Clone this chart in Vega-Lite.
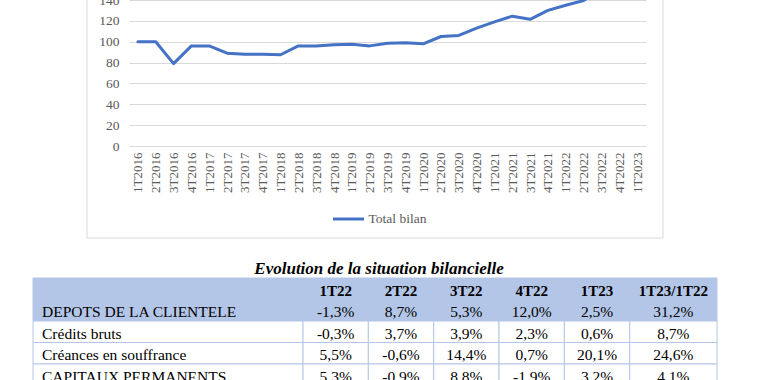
{
  "$schema": "https://vega.github.io/schema/vega-lite/v6.json",
  "width": 758,
  "height": 380,
  "autosize": {"type": "none"},
  "padding": 0,
  "background": "#FFFFFF",
  "config": {"view": {"stroke": null}, "font": "Liberation Serif"},
  "datasets": {
    "bilan": [
      {"trimestre": "1T2016", "total": 100, "serie": "Total bilan"},
      {"trimestre": "2T2016", "total": 100, "serie": "Total bilan"},
      {"trimestre": "3T2016", "total": 79, "serie": "Total bilan"},
      {"trimestre": "4T2016", "total": 96, "serie": "Total bilan"},
      {"trimestre": "1T2017", "total": 96, "serie": "Total bilan"},
      {"trimestre": "2T2017", "total": 89, "serie": "Total bilan"},
      {"trimestre": "3T2017", "total": 88, "serie": "Total bilan"},
      {"trimestre": "4T2017", "total": 88, "serie": "Total bilan"},
      {"trimestre": "1T2018", "total": 87.5, "serie": "Total bilan"},
      {"trimestre": "2T2018", "total": 96, "serie": "Total bilan"},
      {"trimestre": "3T2018", "total": 96, "serie": "Total bilan"},
      {"trimestre": "4T2018", "total": 97, "serie": "Total bilan"},
      {"trimestre": "1T2019", "total": 97.5, "serie": "Total bilan"},
      {"trimestre": "2T2019", "total": 96, "serie": "Total bilan"},
      {"trimestre": "3T2019", "total": 98.5, "serie": "Total bilan"},
      {"trimestre": "4T2019", "total": 99, "serie": "Total bilan"},
      {"trimestre": "1T2020", "total": 98, "serie": "Total bilan"},
      {"trimestre": "2T2020", "total": 105, "serie": "Total bilan"},
      {"trimestre": "3T2020", "total": 106, "serie": "Total bilan"},
      {"trimestre": "4T2020", "total": 113, "serie": "Total bilan"},
      {"trimestre": "1T2021", "total": 119, "serie": "Total bilan"},
      {"trimestre": "2T2021", "total": 124.5, "serie": "Total bilan"},
      {"trimestre": "3T2021", "total": 121.5, "serie": "Total bilan"},
      {"trimestre": "4T2021", "total": 130, "serie": "Total bilan"},
      {"trimestre": "1T2022", "total": 135, "serie": "Total bilan"},
      {"trimestre": "2T2022", "total": 139.5, "serie": "Total bilan"},
      {"trimestre": "3T2022", "total": 150, "serie": "Total bilan"},
      {"trimestre": "4T2022", "total": 162, "serie": "Total bilan"},
      {"trimestre": "1T2023", "total": 166, "serie": "Total bilan"}
    ],
    "lignes": [
      {"ligne": "entete"},
      {"ligne": "DEPOTS DE LA CLIENTELE"},
      {"ligne": "Crédits bruts"},
      {"ligne": "Créances en souffrance"},
      {"ligne": "CAPITAUX PERMANENTS"}
    ],
    "cellules": [
      {"ligne": "DEPOTS DE LA CLIENTELE", "periode": "1T22", "valeur": "-1,3%"},
      {"ligne": "DEPOTS DE LA CLIENTELE", "periode": "2T22", "valeur": "8,7%"},
      {"ligne": "DEPOTS DE LA CLIENTELE", "periode": "3T22", "valeur": "5,3%"},
      {"ligne": "DEPOTS DE LA CLIENTELE", "periode": "4T22", "valeur": "12,0%"},
      {"ligne": "DEPOTS DE LA CLIENTELE", "periode": "1T23", "valeur": "2,5%"},
      {"ligne": "DEPOTS DE LA CLIENTELE", "periode": "1T23/1T22", "valeur": "31,2%"},
      {"ligne": "Crédits bruts", "periode": "1T22", "valeur": "-0,3%"},
      {"ligne": "Crédits bruts", "periode": "2T22", "valeur": "3,7%"},
      {"ligne": "Crédits bruts", "periode": "3T22", "valeur": "3,9%"},
      {"ligne": "Crédits bruts", "periode": "4T22", "valeur": "2,3%"},
      {"ligne": "Crédits bruts", "periode": "1T23", "valeur": "0,6%"},
      {"ligne": "Crédits bruts", "periode": "1T23/1T22", "valeur": "8,7%"},
      {"ligne": "Créances en souffrance", "periode": "1T22", "valeur": "5,5%"},
      {"ligne": "Créances en souffrance", "periode": "2T22", "valeur": "-0,6%"},
      {"ligne": "Créances en souffrance", "periode": "3T22", "valeur": "14,4%"},
      {"ligne": "Créances en souffrance", "periode": "4T22", "valeur": "0,7%"},
      {"ligne": "Créances en souffrance", "periode": "1T23", "valeur": "20,1%"},
      {"ligne": "Créances en souffrance", "periode": "1T23/1T22", "valeur": "24,6%"},
      {"ligne": "CAPITAUX PERMANENTS", "periode": "1T22", "valeur": "5,3%"},
      {"ligne": "CAPITAUX PERMANENTS", "periode": "2T22", "valeur": "-0,9%"},
      {"ligne": "CAPITAUX PERMANENTS", "periode": "3T22", "valeur": "8,8%"},
      {"ligne": "CAPITAUX PERMANENTS", "periode": "4T22", "valeur": "-1,9%"},
      {"ligne": "CAPITAUX PERMANENTS", "periode": "1T23", "valeur": "3,2%"},
      {"ligne": "CAPITAUX PERMANENTS", "periode": "1T23/1T22", "valeur": "4,1%"}
    ]
  },
  "layer": [
    {
      "data": {"name": "bilan"},
      "mark": {"type": "line", "strokeWidth": 3, "strokeJoin": "round", "strokeCap": "round"},
      "encoding": {
        "x": {
          "field": "trimestre", "type": "ordinal", "sort": null,
          "scale": {"type": "point", "range": [129, 646], "padding": 0.5},
          "axis": {"orient": "bottom", "offset": -234, "title": null, "labelAngle": -90, "labelFont": "Liberation Serif", "labelFontSize": 13, "labelColor": "#595959", "ticks": false, "domain": false, "grid": false, "labelPadding": 6, "labelOverlap": false}
        },
        "y": {
          "field": "total", "type": "quantitative",
          "scale": {"domain": [0, 140], "range": [146, 0], "nice": false},
          "axis": {"orient": "left", "offset": -129, "title": null, "values": [0, 20, 40, 60, 80, 100, 120, 140], "labelFont": "Liberation Serif", "labelFontSize": 13.5, "labelColor": "#595959", "ticks": false, "domain": false, "grid": true, "gridColor": "#D9D9D9", "gridWidth": 1, "labelPadding": 10}
        },
        "color": {
          "field": "serie", "type": "nominal",
          "scale": {"range": ["#4472C4"]},
          "legend": {"orient": "none", "legendX": 331.5, "legendY": 202, "title": null, "symbolType": "stroke", "symbolStrokeWidth": 3, "symbolSize": 961, "labelFont": "Liberation Serif", "labelFontSize": 13.5, "labelColor": "#595959", "labelOffset": 3, "padding": 0}
        }
      }
    },
    {
      "data": {"values": [{}]},
      "mark": {"type": "rect", "fillOpacity": 0, "stroke": "#D9D9D9", "strokeWidth": 1},
      "encoding": {
        "x": {"datum": 0, "type": "quantitative", "scale": {"domain": [0, 1], "range": [87, 663]}, "axis": null},
        "x2": {"datum": 1},
        "y": {"datum": 0, "type": "quantitative", "scale": {"domain": [0, 1], "range": [238, -20]}, "axis": null},
        "y2": {"datum": 1}
      }
    },
    {
      "layer": [
        {
          "data": {"values": [{"titre": "Evolution de la situation bilancielle"}]},
          "mark": {"type": "text", "font": "Liberation Serif", "fontSize": 17, "fontWeight": "bold", "fontStyle": "italic", "color": "#000000", "dy": 2},
          "encoding": {
            "text": {"field": "titre"},
            "y": {"datum": "titre", "type": "nominal", "scale": {"domain": ["titre", "entete", "DEPOTS DE LA CLIENTELE", "Crédits bruts", "Créances en souffrance", "CAPITAUX PERMANENTS"], "range": [256.5, 385.5], "paddingInner": 0, "paddingOuter": 0}, "axis": null}
          }
        },
        {
          "data": {"name": "lignes"},
          "encoding": {
            "y": {"field": "ligne", "type": "nominal", "scale": {"domain": ["titre", "entete", "DEPOTS DE LA CLIENTELE", "Crédits bruts", "Créances en souffrance", "CAPITAUX PERMANENTS"], "range": [256.5, 385.5], "paddingInner": 0, "paddingOuter": 0}, "axis": null}
          },
          "layer": [
            {
              "mark": {"type": "rect", "stroke": "#B4C6E7", "strokeWidth": 1},
              "encoding": {
                "x": {"datum": "Libellé", "type": "nominal", "scale": {"range": [33, 303], "paddingInner": 0, "paddingOuter": 0}, "axis": null},
                "fill": {"condition": {"test": "datum.ligne === 'entete' || datum.ligne === 'DEPOTS DE LA CLIENTELE'", "value": "#B4C6E7"}, "value": "#FFFFFF"}
              }
            },
            {
              "transform": [{"filter": "datum.ligne !== 'entete'"}],
              "mark": {"type": "text", "align": "left", "dx": 9, "dy": 2, "font": "Liberation Serif", "fontSize": 15.5, "color": "#000000"},
              "encoding": {
                "x": {"datum": "Libellé", "type": "nominal", "bandPosition": 0, "scale": {"range": [33, 303], "paddingInner": 0, "paddingOuter": 0}, "axis": null},
                "text": {"field": "ligne"}
              }
            }
          ]
        },
        {
          "data": {"name": "cellules"},
          "transform": [{"filter": "datum.periode !== '1T23/1T22'"}],
          "encoding": {
            "x": {"field": "periode", "type": "nominal", "scale": {"domain": ["1T22", "2T22", "3T22", "4T22", "1T23"], "range": [303, 629.7], "paddingInner": 0, "paddingOuter": 0}, "axis": null},
            "y": {"field": "ligne", "type": "nominal", "scale": {"domain": ["titre", "entete", "DEPOTS DE LA CLIENTELE", "Crédits bruts", "Créances en souffrance", "CAPITAUX PERMANENTS"], "range": [256.5, 385.5], "paddingInner": 0, "paddingOuter": 0}, "axis": null}
          },
          "layer": [
            {
              "mark": {"type": "rect", "stroke": "#B4C6E7", "strokeWidth": 1},
              "encoding": {
                "fill": {"condition": {"test": "datum.ligne === 'DEPOTS DE LA CLIENTELE'", "value": "#B4C6E7"}, "value": "#FFFFFF"}
              }
            },
            {
              "transform": [{"filter": "datum.ligne === 'DEPOTS DE LA CLIENTELE'"}],
              "mark": {"type": "rect", "fill": "#B4C6E7", "stroke": "#B4C6E7", "strokeWidth": 1},
              "encoding": {
                "y": {"datum": "entete", "type": "nominal", "scale": {"domain": ["titre", "entete", "DEPOTS DE LA CLIENTELE", "Crédits bruts", "Créances en souffrance", "CAPITAUX PERMANENTS"], "range": [256.5, 385.5], "paddingInner": 0, "paddingOuter": 0}, "axis": null}
              }
            },
            {
              "transform": [{"filter": "datum.ligne === 'DEPOTS DE LA CLIENTELE'"}],
              "mark": {"type": "text", "font": "Liberation Serif", "fontSize": 15, "fontWeight": "bold", "color": "#000000", "dy": 2},
              "encoding": {
                "y": {"datum": "entete", "type": "nominal", "scale": {"domain": ["titre", "entete", "DEPOTS DE LA CLIENTELE", "Crédits bruts", "Créances en souffrance", "CAPITAUX PERMANENTS"], "range": [256.5, 385.5], "paddingInner": 0, "paddingOuter": 0}, "axis": null},
                "text": {"field": "periode"}
              }
            },
            {
              "mark": {"type": "text", "font": "Liberation Serif", "fontSize": 15.5, "color": "#000000", "dy": 2},
              "encoding": {"text": {"field": "valeur"}}
            }
          ]
        },
        {
          "data": {"name": "cellules"},
          "transform": [{"filter": "datum.periode === '1T23/1T22'"}],
          "encoding": {
            "x": {"field": "periode", "type": "nominal", "scale": {"domain": ["1T23/1T22"], "range": [629.7, 717], "paddingInner": 0, "paddingOuter": 0}, "axis": null},
            "y": {"field": "ligne", "type": "nominal", "scale": {"domain": ["titre", "entete", "DEPOTS DE LA CLIENTELE", "Crédits bruts", "Créances en souffrance", "CAPITAUX PERMANENTS"], "range": [256.5, 385.5], "paddingInner": 0, "paddingOuter": 0}, "axis": null}
          },
          "layer": [
            {
              "mark": {"type": "rect", "stroke": "#B4C6E7", "strokeWidth": 1},
              "encoding": {
                "fill": {"condition": {"test": "datum.ligne === 'DEPOTS DE LA CLIENTELE'", "value": "#B4C6E7"}, "value": "#FFFFFF"}
              }
            },
            {
              "transform": [{"filter": "datum.ligne === 'DEPOTS DE LA CLIENTELE'"}],
              "mark": {"type": "rect", "fill": "#B4C6E7", "stroke": "#B4C6E7", "strokeWidth": 1},
              "encoding": {
                "y": {"datum": "entete", "type": "nominal", "scale": {"domain": ["titre", "entete", "DEPOTS DE LA CLIENTELE", "Crédits bruts", "Créances en souffrance", "CAPITAUX PERMANENTS"], "range": [256.5, 385.5], "paddingInner": 0, "paddingOuter": 0}, "axis": null}
              }
            },
            {
              "transform": [{"filter": "datum.ligne === 'DEPOTS DE LA CLIENTELE'"}],
              "mark": {"type": "text", "font": "Liberation Serif", "fontSize": 15, "fontWeight": "bold", "color": "#000000", "dy": 2},
              "encoding": {
                "y": {"datum": "entete", "type": "nominal", "scale": {"domain": ["titre", "entete", "DEPOTS DE LA CLIENTELE", "Crédits bruts", "Créances en souffrance", "CAPITAUX PERMANENTS"], "range": [256.5, 385.5], "paddingInner": 0, "paddingOuter": 0}, "axis": null},
                "text": {"field": "periode"}
              }
            },
            {
              "mark": {"type": "text", "font": "Liberation Serif", "fontSize": 15.5, "color": "#000000", "dy": 2},
              "encoding": {"text": {"field": "valeur"}}
            }
          ]
        }
      ],
      "resolve": {"scale": {"x": "independent", "y": "shared"}}
    }
  ],
  "resolve": {"scale": {"x": "independent", "y": "independent", "color": "independent", "fill": "independent"}, "axis": {"x": "independent", "y": "independent"}}
}
